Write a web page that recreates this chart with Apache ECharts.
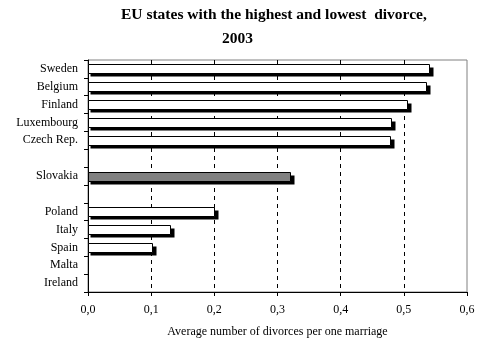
<!DOCTYPE html>
<html>
<head>
<meta charset="utf-8">
<script src="https://cdn.jsdelivr.net/npm/echarts@6/dist/echarts.min.js"></script>
<style>
  html, body { margin: 0; padding: 0; background: #fff; }
  #chart { width: 481px; height: 348px; }
</style>
</head>
<body>
<div id="chart"></div>
<script>
// Divorces per marriage in selected EU states, 2003 (blank rows separate groups)
const countries = ['Sweden', 'Belgium', 'Finland', 'Luxembourg', 'Czech Rep.', ' ', 'Slovakia', '  ', 'Poland', 'Italy', 'Spain', 'Malta', 'Ireland'];
const divorces  = [0.54, 0.535, 0.505, 0.48, 0.478, null, 0.32, null, 0.2, 0.13, 0.102, 0, 0];
const highlighted = ['Slovakia'];
const xTicks = [0, 0.1, 0.2, 0.3, 0.4, 0.5, 0.6];

const serif = 'Liberation Serif';
const BAR_H = 9;

// [value, row index] pairs; rows with no bar length are left out
const barData = [];
countries.forEach((name, i) => {
  const v = divorces[i];
  if (v) barData.push({ value: [v, i], fill: highlighted.includes(name) ? '#808080' : '#ffffff' });
});

// Each bar: a solid black drop shadow under a bordered bar
function renderBar(params, api) {
  const row = api.value(1);
  const p0 = api.coord([0, row]);
  const p1 = api.coord([api.value(0), row]);
  const x0 = Math.round(p0[0]) + 0.5;
  const x1 = Math.round(p1[0]) + 0.5;
  const y0 = Math.round(p0[1] - BAR_H / 2) + 0.5;
  const fill = barData[params.dataIndex].fill;
  return {
    type: 'group',
    children: [
      {
        type: 'rect',
        shape: { x: x0 + 2, y: y0 + 3, width: x1 - x0 + 2, height: BAR_H },
        style: { fill: '#000' }
      },
      {
        type: 'rect',
        shape: { x: x0, y: y0, width: x1 - x0, height: BAR_H },
        style: { fill: fill, stroke: '#000', lineWidth: 1 }
      }
    ]
  };
}

const titleStyle = { fontFamily: serif, fontSize: 15.5, fontWeight: 'bold', color: '#000' };

const chart = echarts.init(document.getElementById('chart'), null, { renderer: 'canvas' });
chart.setOption({
  animation: false,
  backgroundColor: '#ffffff',
  title: [
    { text: 'EU states with the highest and lowest  divorce,', left: 121, top: 7, padding: 0, textStyle: titleStyle },
    { text: '2003', left: 222, top: 31, padding: 0, textStyle: titleStyle }
  ],
  grid: {
    left: 88, right: 14, top: 60, bottom: 56,
    show: true, borderColor: '#808080', borderWidth: 1, backgroundColor: 'transparent'
  },
  xAxis: {
    type: 'value',
    min: xTicks[0], max: xTicks[xTicks.length - 1], interval: 0.1,
    name: 'Average number of divorces per one marriage',
    nameLocation: 'middle', nameGap: 34,
    nameTextStyle: { fontFamily: serif, fontSize: 12, color: '#000' },
    axisLine: { show: true, lineStyle: { color: '#000', width: 1 } },
    axisTick: { show: true, length: 4, lineStyle: { color: '#000' } },
    axisLabel: {
      margin: 12, fontFamily: serif, fontSize: 12, color: '#000',
      formatter: v => v.toFixed(1).replace('.', ',')
    },
    splitLine: {
      show: true, showMinLine: false, showMaxLine: false,
      lineStyle: { color: '#000', type: [4, 4], width: 1 }
    }
  },
  yAxis: {
    type: 'category',
    inverse: true,
    data: countries,
    axisLine: { show: true, lineStyle: { color: '#000', width: 1 } },
    axisTick: { show: true, length: 4, lineStyle: { color: '#000' } },
    axisLabel: { margin: 10, fontFamily: serif, fontSize: 12, color: '#000' },
    splitLine: { show: false }
  },
  series: [{
    type: 'custom',
    renderItem: renderBar,
    encode: { x: 0, y: 1 },
    data: barData.map(d => d.value),
    silent: true,
    z: 3
  }]
});
</script>
</body>
</html>
